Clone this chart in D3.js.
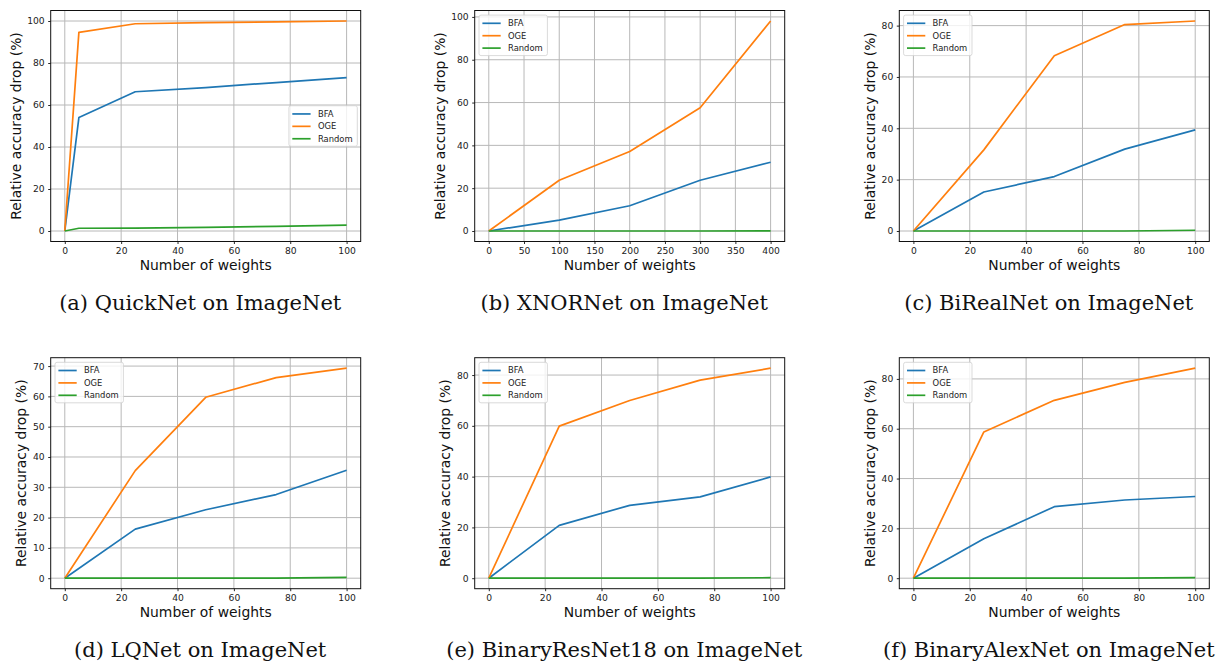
<!DOCTYPE html>
<html>
<head>
<meta charset="utf-8">
<script src="https://cdn.jsdelivr.net/npm/d3@7"></script>
<style>
  body { margin: 0; background: #fff; }
  text { font-family: "DejaVu Sans", sans-serif; }
</style>
</head>
<body>
<svg id="paper"></svg>
<script>
// values
const weightsQuick = [0, 5, 25, 50, 75, 100];
const bfaQuick = [0, 54.0, 66.3, 68.3, 70.7, 73.0];
const ogeQuick = [0, 94.6, 98.7, 99.2, 99.6, 100];
const randQuick = [0, 1.3, 1.4, 1.7, 2.2, 2.8];

const weightsXnor = [0, 100, 200, 300, 400];
const bfaXnor = [0, 5.1, 11.8, 23.7, 32.1];
const ogeXnor = [0, 23.7, 37.1, 57.6, 98.1];
const randXnor = [0, 0, 0, 0, 0.1];

const weights = [0, 25, 50, 75, 100];
const bfaBiReal = [0, 15.2, 21.2, 31.9, 39.4];
const ogeBiReal = [0, 31.6, 68.3, 80.4, 81.8];
const randBiReal = [0, 0, 0, 0, 0.3];

const bfaLQ = [0, 16.2, 22.6, 27.6, 35.6];
const ogeLQ = [0, 35.5, 59.7, 66.2, 69.3];
const randLQ = [0, 0, 0, 0, 0.3];

const bfaRes18 = [0, 20.8, 28.7, 32.0, 39.9];
const ogeRes18 = [0, 59.9, 70.0, 78.0, 82.7];
const randRes18 = [0, 0, 0, 0, 0.2];

const bfaAlex = [0, 15.8, 28.7, 31.4, 32.8];
const ogeAlex = [0, 58.7, 71.4, 78.6, 84.3];
const randAlex = [0, 0, 0, 0, 0.2];

const seriesNames = ["BFA", "OGE", "Random"];
const seriesColors = ["#1f77b4", "#ff7f0e", "#2ca02c"];

const ticks100 = [0, 20, 40, 60, 80, 100];
const ticks400 = [0, 50, 100, 150, 200, 250, 300, 350, 400];
const ticks80 = [0, 20, 40, 60, 80];
const ticks70 = [0, 10, 20, 30, 40, 50, 60, 70];

const captions = [
    "(a) QuickNet on ImageNet",
    "(b) XNORNet on ImageNet",
    "(c) BiRealNet on ImageNet",
    "(d) LQNet on ImageNet",
    "(e) BinaryResNet18 on ImageNet",
    "(f) BinaryAlexNet on ImageNet"
];

const panels = [
    {x: weightsQuick, ys: [bfaQuick, ogeQuick, randQuick], xt: ticks100, yt: ticks100, legend: "right"},
    {x: weightsXnor, ys: [bfaXnor, ogeXnor, randXnor], xt: ticks400, yt: ticks100, legend: "left"},
    {x: weights, ys: [bfaBiReal, ogeBiReal, randBiReal], xt: ticks100, yt: ticks80, legend: "left"},
    {x: weights, ys: [bfaLQ, ogeLQ, randLQ], xt: ticks100, yt: ticks70, legend: "left"},
    {x: weights, ys: [bfaRes18, ogeRes18, randRes18], xt: ticks100, yt: ticks80, legend: "left"},
    {x: weights, ys: [bfaAlex, ogeAlex, randAlex], xt: ticks100, yt: ticks80, legend: "left"}
];

let svg = d3.select("#paper")
    .attr("width", 1222)
    .attr("height", 662);

let colLeft = [50.7, 474.7, 899.3],
    rowTop = [10.5, 357.7],
    width = 310,
    height = 231;

// matplotlib style auto limits: 5% margin each side
function padded(vals) {
    let [lo, hi] = d3.extent(vals);
    let m = (hi - lo) * 0.05;
    return [lo - m, hi + m];
}

panels.forEach((p, i) => {
    let left = colLeft[i % 3], top = rowTop[Math.floor(i / 3)];
    let g = svg.append("g")
        .attr("transform", "translate(" + left + "," + top + ")");

    let x = d3.scaleLinear().domain(padded(p.x)).range([0, width]);
    let y = d3.scaleLinear().domain(padded(p.ys.flat())).range([height, 0]);

    // grid
    g.selectAll(".gx").data(p.xt).enter().append("line")
        .attr("x1", d => x(d)).attr("x2", d => x(d))
        .attr("y1", 0).attr("y2", height)
        .attr("stroke", "#b8b8b8").attr("stroke-width", 1);
    g.selectAll(".gy").data(p.yt).enter().append("line")
        .attr("y1", d => y(d)).attr("y2", d => y(d))
        .attr("x1", 0).attr("x2", width)
        .attr("stroke", "#b8b8b8").attr("stroke-width", 1);

    // series
    p.ys.forEach((vals, k) => {
        let line = d3.line()
            .x((d, j) => x(p.x[j]))
            .y(d => y(d));
        g.append("path")
            .datum(vals)
            .attr("d", line)
            .attr("fill", "none")
            .attr("stroke", seriesColors[k])
            .attr("stroke-width", 1.7)
            .attr("stroke-linejoin", "round");
    });

    // frame
    g.append("rect")
        .attr("width", width).attr("height", height)
        .attr("fill", "none").attr("stroke", "#111").attr("stroke-width", 1);

    // axes
    let xAxis = g.append("g")
        .attr("transform", "translate(0," + height + ")")
        .call(d3.axisBottom(x).tickValues(p.xt).tickSize(2.5).tickPadding(3));
    let yAxis = g.append("g")
        .call(d3.axisLeft(y).tickValues(p.yt).tickSize(2.5).tickPadding(3.5));
    [xAxis, yAxis].forEach(ax => {
        ax.select(".domain").remove();
        ax.selectAll("line").attr("stroke", "#111").attr("stroke-width", 0.9);
        ax.selectAll("text")
            .style("font-family", "DejaVu Sans")
            .style("font-size", "9.2px")
            .attr("fill", "#222");
    });

    let maxW = d3.max(yAxis.selectAll("text").nodes(), n => n.getBBox().width);

    g.append("text")
        .attr("x", width / 2)
        .attr("y", height + 28)
        .style("text-anchor", "middle")
        .style("font-size", "13.9px")
        .attr("fill", "#111")
        .text("Number of weights");

    g.append("text")
        .attr("transform", "translate(" + (-(6 + maxW + 6.5)) + "," + (height / 2) + ") rotate(-90)")
        .style("text-anchor", "middle")
        .style("font-size", "13.9px")
        .attr("fill", "#111")
        .text("Relative accuracy drop (%)");

    // legend
    let bw = 68.4, bh = 40.5;
    let bx = p.legend == "right" ? width - 3.4 - bw : 4.3;
    let by = p.legend == "right" ? height / 2 - bh / 2 : 4.6;
    let lg = g.append("g").attr("transform", "translate(" + bx + "," + by + ")");
    lg.append("rect")
        .attr("width", bw).attr("height", bh)
        .attr("rx", 2)
        .attr("fill", "#fff").attr("fill-opacity", 0.8)
        .attr("stroke", "#d0d0d0").attr("stroke-width", 0.8);
    seriesNames.forEach((name, k) => {
        let ry = 8.2 + k * 12.4;
        lg.append("line")
            .attr("x1", 3.4).attr("x2", 21.7)
            .attr("y1", ry).attr("y2", ry)
            .attr("stroke", seriesColors[k]).attr("stroke-width", 1.7);
        lg.append("text")
            .attr("x", 29)
            .attr("y", ry)
            .attr("dy", "0.35em")
            .style("font-size", "8.4px")
            .attr("fill", "#222")
            .text(name);
    });

    // caption
    svg.append("text")
        .attr("x", left + width / 2 - 5.5)
        .attr("y", top + height + 68)
        .style("text-anchor", "middle")
        .style("font-family", "DejaVu Serif")
        .style("font-size", "21px")
        .attr("fill", "#111")
        .text(captions[i]);
});
</script>
</body>
</html>
